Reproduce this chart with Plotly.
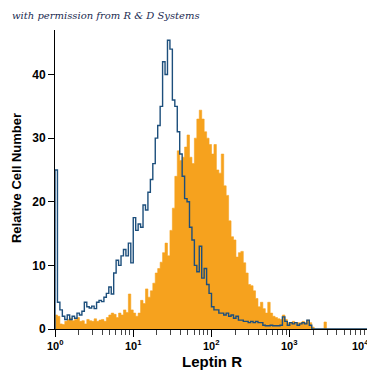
import numpy as np
import plotly.graph_objects as go

# Histogram channels: 32 log bins per decade from 10^0 to 10^4
n_bins = 128
bin_edges = list(np.logspace(0, 4, n_bins + 1))

# Isotype control (blue outline)
isotype_counts = [
    25, 4.2, 3, 2, 1.5, 2.2, 1.5, 2, 1.7, 2.5,
    2.2, 2.8, 4.2, 3.5, 3.3, 3.6, 3.2, 4.2, 4.5, 4.3,
    5, 5.6, 6.6, 5.5, 8.8, 10.8, 10, 11.5, 12.5, 11.5,
    13.5, 10.4, 17.5, 15.5, 16.5, 16, 19.5, 18.7, 21.5, 23.5,
    26, 30, 32, 35, 42, 40, 45.4, 44, 36, 35,
    31, 27.5, 24, 20.5, 20, 16, 14, 10, 9, 13,
    8, 9.5, 7, 5.6, 3.5, 3, 3, 2.5, 2.5, 2.2,
    2.5, 2, 2.2, 1.7, 2, 1.4, 1.4, 1.2, 1.2, 1,
    1.2, 1, 1.2, 1, 1, 0.6, 0.5, 0.5, 0.6, 0.5,
    0.5, 0.5, 0.6, 1.9, 1.2, 0.6, 1, 0.8, 1, 0.6,
    0.8, 1, 0.8, 1.4, 0.6, 0, 0, 0, 0, 0,
    0, 0, 0, 0, 0, 0, 0, 0, 0, 0,
    0, 0, 0, 0, 0, 0, 0, 0,
]

# Leptin R stained (orange filled)
leptin_counts = [
    2.2, 2, 0.8, 0.7, 1.2, 1.5, 1.7, 1.3, 1.5, 1.8,
    1.2, 1.3, 0.8, 1.5, 1.3, 1.2, 1.6, 1.2, 1.4, 1.5,
    1.2, 1.8, 2.2, 2.5, 2.3, 1.8, 2.5, 2.2, 3, 2.6,
    5.5, 3, 2.5, 2, 2.5, 4.5, 4, 6.3, 5, 6,
    7.2, 8.8, 9.5, 10.5, 12, 13.5, 11.5, 15.5, 19, 24,
    28, 26.5, 27, 28.6, 30.5, 27, 26, 30, 33, 34.4,
    33, 31, 30, 29, 27.5, 29, 25, 24.5, 27.5, 22.5,
    21, 17, 14.5, 14, 11.3, 12, 12.2, 10.4, 8.8, 7,
    6.8, 6, 4.8, 3.5, 4.2, 3.2, 2.5, 4.2, 2.5, 2,
    1.8, 1.6, 1.5, 2.2, 1.5, 1, 1, 1.2, 0.9, 1,
    1, 1.2, 1, 1.4, 1, 0.3, 0, 0, 0, 0,
    1.1, 0, 0, 0, 0, 0, 0, 0, 0, 0,
    0, 0, 0, 0, 0, 0, 0, 0,
]

x_tick_vals = [1, 10, 100, 1000, 10000]
x_tick_text = ["10<sup>0</sup>", "10<sup>1</sup>", "10<sup>2</sup>", "10<sup>3</sup>", "10<sup>4</sup>"]
y_tick_vals = [0, 10, 20, 30, 40]

minor_vals = [m * 10 ** d for d in range(4) for m in range(2, 10)]

BLUE = "#1d4f7c"
ORANGE = "#f6a21e"
FONT = "Liberation Sans, Arial, sans-serif"

fig = go.Figure()

fig.add_trace(go.Scatter(
    x=bin_edges,
    y=leptin_counts + [leptin_counts[-1]],
    mode="lines",
    line=dict(shape="hv", width=0.6, color=ORANGE),
    fill="tozeroy",
    fillcolor=ORANGE,
    hoverinfo="skip",
    showlegend=False,
))

fig.add_trace(go.Scatter(
    x=[bin_edges[0]] + bin_edges,
    y=[0] + isotype_counts + [isotype_counts[-1]],
    mode="lines",
    line=dict(shape="hv", width=1.4, color=BLUE),
    hoverinfo="skip",
    showlegend=False,
))

# x tick labels as annotations so the last one can be kept inside the window
tick_annotations = []
for i, (v, t) in enumerate(zip(x_tick_vals, x_tick_text)):
    last = i == len(x_tick_vals) - 1
    tick_annotations.append(dict(
        text=t,
        xref="x", yref="paper",
        x=np.log10(v), y=-0.055,
        xanchor="right" if last else "center", yanchor="middle",
        xshift=3 if last else 0,
        showarrow=False,
        font=dict(family=FONT, size=11, weight="bold", color="black"),
    ))

# The page body has an 8px margin, so the figure is sized to fit the 375px window
fig.update_layout(
    width=367,
    height=367,
    margin=dict(l=47, r=7, t=22, b=46),
    paper_bgcolor="white",
    plot_bgcolor="white",
    font=dict(family=FONT, color="black"),
    xaxis=dict(
        type="log",
        range=[0, 4],
        automargin=False,
        showgrid=False,
        zeroline=False,
        showline=True,
        linecolor="black",
        linewidth=1,
        ticks="outside",
        ticklen=7,
        tickcolor="black",
        tickvals=x_tick_vals,
        showticklabels=False,
        minor=dict(ticks="outside", ticklen=5, tickcolor="#444", tickvals=minor_vals),
    ),
    yaxis=dict(
        range=[0, 47],
        automargin=False,
        showgrid=False,
        zeroline=False,
        showline=True,
        linecolor="black",
        linewidth=1,
        ticks="outside",
        ticklen=6,
        tickcolor="black",
        tickvals=y_tick_vals,
        tickfont=dict(size=12, family=FONT, weight="bold"),
    ),
    annotations=tick_annotations + [
        dict(
            text="with permission from R &amp; D Systems",
            xref="paper", yref="paper",
            x=-0.144, y=1.047, xanchor="left", yanchor="middle",
            showarrow=False,
            font=dict(family="DejaVu Serif, Liberation Serif, serif", size=10, style="italic", color="#1a2a50"),
        ),
        dict(
            text="Leptin R",
            xref="paper", yref="paper",
            x=0.50, y=-0.11, xanchor="center", yanchor="middle",
            showarrow=False,
            font=dict(family=FONT, size=15, weight="bold", color="black"),
        ),
        dict(
            text="Relative Cell Number",
            xref="paper", yref="paper",
            x=-0.1245, y=0.505, xanchor="center", yanchor="middle",
            textangle=-90,
            showarrow=False,
            font=dict(family=FONT, size=13, weight="bold", color="black"),
        ),
    ],
)

fig.write_html("out.html")
